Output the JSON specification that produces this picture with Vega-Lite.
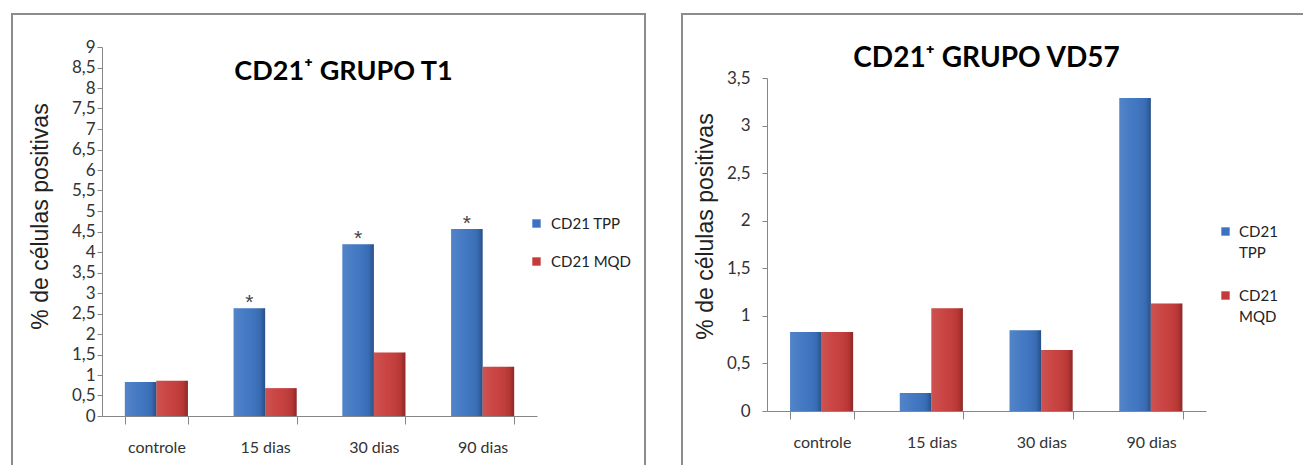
{
  "$schema": "https://vega.github.io/schema/vega-lite/v6.json",
  "background": "white",
  "padding": {"left": 11, "top": 13, "right": 0, "bottom": 0},
  "spacing": 35,
  "config": {
    "view": {"stroke": "#8c8c8c", "strokeWidth": 2},
    "font": "Lato",
    "axis": {
      "domainColor": "#868686",
      "tickColor": "#868686",
      "labelColor": "#333333",
      "labelFont": "Lato",
      "labelFontSize": 17,
      "titleFont": "Liberation Sans",
      "titleFontSize": 23,
      "titleFontWeight": "normal",
      "titleColor": "#222222",
      "grid": false
    },
    "legend": {"labelFont": "Lato", "labelFontSize": 15, "labelColor": "#222222", "symbolType": "square", "symbolStrokeWidth": 0, "padding": 0}
  },
  "datasets": {
    "t1": [
      {"cat": "controle", "series": "CD21 TPP", "value": 0.83, "sig": ""},
      {"cat": "controle", "series": "CD21 MQD", "value": 0.86, "sig": ""},
      {"cat": "15 dias", "series": "CD21 TPP", "value": 2.63, "sig": "*"},
      {"cat": "15 dias", "series": "CD21 MQD", "value": 0.68, "sig": ""},
      {"cat": "30 dias", "series": "CD21 TPP", "value": 4.19, "sig": "*"},
      {"cat": "30 dias", "series": "CD21 MQD", "value": 1.55, "sig": ""},
      {"cat": "90 dias", "series": "CD21 TPP", "value": 4.56, "sig": "*"},
      {"cat": "90 dias", "series": "CD21 MQD", "value": 1.2, "sig": ""}
    ],
    "vd": [
      {"cat": "controle", "series": "CD21 TPP", "value": 0.83},
      {"cat": "controle", "series": "CD21 MQD", "value": 0.83},
      {"cat": "15 dias", "series": "CD21 TPP", "value": 0.19},
      {"cat": "15 dias", "series": "CD21 MQD", "value": 1.08},
      {"cat": "30 dias", "series": "CD21 TPP", "value": 0.85},
      {"cat": "30 dias", "series": "CD21 MQD", "value": 0.64},
      {"cat": "90 dias", "series": "CD21 TPP", "value": 3.29},
      {"cat": "90 dias", "series": "CD21 MQD", "value": 1.13}
    ]
  },
  "resolve": {"legend": {"color": "independent"}},
  "hconcat": [
    {
      "width": 633,
      "height": 460,
      "title": {"text": "CD21⁺ GRUPO T1", "font": "Lato", "fontSize": 27, "fontWeight": "bold", "color": "black", "anchor": "middle", "frame": "group", "baseline": "alphabetic", "offset": -93, "dx": 15},
      "data": {"name": "t1"},
      "encoding": {
        "x": {"field": "cat", "type": "nominal", "sort": ["controle", "15 dias", "30 dias", "90 dias"],
          "scale": {"range": [90, 525], "paddingInner": 0.42, "paddingOuter": 0.21},
          "axis": {"title": null, "labelAngle": 0, "offset": -58, "tickBand": "extent", "tickSize": 8, "labelPadding": 15, "labelFontSize": 16}},
        "xOffset": {"field": "series", "type": "nominal", "sort": ["CD21 TPP", "CD21 MQD"]},
        "y": {"field": "value", "type": "quantitative",
          "scale": {"domain": [0, 9], "range": [402, 33], "nice": false},
          "axis": {"values": [0, 0.5, 1, 1.5, 2, 2.5, 3, 3.5, 4, 4.5, 5, 5.5, 6, 6.5, 7, 7.5, 8, 8.5, 9],
            "labelExpr": "replace(toString(datum.value), '.', ',')", "title": "% de células positivas",
            "offset": -90, "tickSize": 5, "labelPadding": 2, "titleX": -62, "titleY": 202, "titleBaseline": "middle", "titleAngle": -90}}
      },
      "layer": [
        {"mark": {"type": "bar"},
         "encoding": {"color": {"field": "series", "type": "nominal",
           "scale": {"domain": ["CD21 TPP", "CD21 MQD"], "range": ["#3b73c0", "#c63b39"]},
           "legend": {"title": null, "orient": "none", "legendX": 517, "legendY": 202, "symbolSize": 70, "labelOffset": 7, "rowPadding": 22}}}},
        {"mark": {"type": "bar", "fill": {"gradient": "linear", "x1": 0, "y1": 0, "x2": 1, "y2": 0,
          "stops": [{"offset": 0, "color": "rgba(255,255,255,0.12)"}, {"offset": 0.45, "color": "rgba(255,255,255,0.04)"}, {"offset": 0.85, "color": "rgba(0,0,0,0.08)"}, {"offset": 1, "color": "rgba(0,0,0,0.3)"}]}},
         "encoding": {}},
        {"mark": {"type": "text", "font": "Liberation Sans", "fontSize": 21, "color": "#444444", "baseline": "bottom", "dy": 5},
         "encoding": {"text": {"field": "sig"}}}
      ]
    },
    {
      "width": 625,
      "height": 460,
      "title": {"text": "CD21⁺ GRUPO VD57", "font": "Lato", "fontSize": 28, "fontWeight": "bold", "color": "black", "anchor": "middle", "frame": "group", "baseline": "alphabetic", "offset": -81, "dx": -8},
      "data": {"name": "vd"},
      "encoding": {
        "x": {"field": "cat", "type": "nominal", "sort": ["controle", "15 dias", "30 dias", "90 dias"],
          "scale": {"range": [85, 524], "paddingInner": 0.42, "paddingOuter": 0.21},
          "axis": {"title": null, "labelAngle": 0, "offset": -63, "tickBand": "extent", "tickSize": 8, "labelPadding": 15, "labelFontSize": 16}},
        "xOffset": {"field": "series", "type": "nominal", "sort": ["CD21 TPP", "CD21 MQD"]},
        "y": {"field": "value", "type": "quantitative",
          "scale": {"domain": [0, 3.5], "range": [397, 64], "nice": false},
          "axis": {"values": [0, 0.5, 1, 1.5, 2, 2.5, 3, 3.5],
            "labelExpr": "replace(toString(datum.value), '.', ',')", "title": "% de células positivas",
            "offset": -85, "tickSize": 5, "labelPadding": 12, "titleX": -62, "titleY": 212, "titleBaseline": "middle", "titleAngle": -90}}
      },
      "layer": [
        {"mark": {"type": "bar"},
         "encoding": {"color": {"field": "series", "type": "nominal",
           "scale": {"domain": ["CD21 TPP", "CD21 MQD"], "range": ["#3b73c0", "#c63b39"]},
           "legend": {"title": null, "orient": "none", "legendX": 536, "legendY": 210, "symbolSize": 70, "labelOffset": 6, "rowPadding": 27, "labelBaseline": "top",
             "labelExpr": "split(datum.label, ' ')",
             "encode": {"labels": {"update": {"dy": {"value": -7}, "lineHeight": {"value": 21}}}}}}}},
        {"mark": {"type": "bar", "fill": {"gradient": "linear", "x1": 0, "y1": 0, "x2": 1, "y2": 0,
          "stops": [{"offset": 0, "color": "rgba(255,255,255,0.12)"}, {"offset": 0.45, "color": "rgba(255,255,255,0.04)"}, {"offset": 0.85, "color": "rgba(0,0,0,0.08)"}, {"offset": 1, "color": "rgba(0,0,0,0.3)"}]}},
         "encoding": {}}
      ]
    }
  ]
}
